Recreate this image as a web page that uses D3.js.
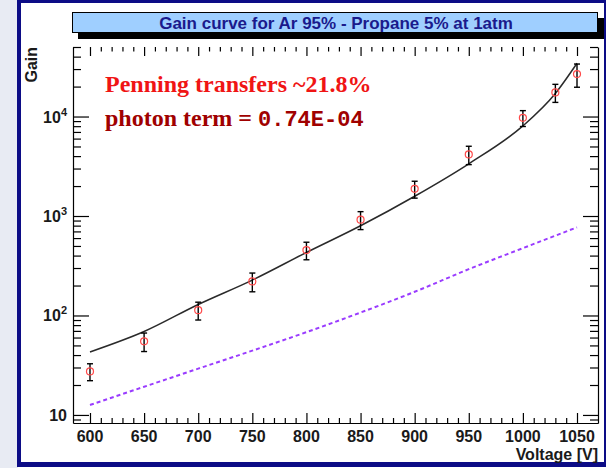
<!DOCTYPE html>
<html>
<head>
<meta charset="utf-8">
<script src="https://cdn.jsdelivr.net/npm/d3@7"></script>
<style>
  body { margin: 0; background: #fff; }
  svg { display: block; }
</style>
</head>
<body>
<svg width="606" height="468"></svg>
<script>
// measured points
const voltage = [600, 650, 700, 750, 800, 850, 900, 950, 1000, 1030, 1050];
const gain    = [27.4, 55, 113, 220, 454, 918, 1874, 4155, 9700, 17470, 26700];
const gainErr = [5.3, 11.6, 23, 47, 91, 188, 362, 870, 1760, 3600, 7000];

// fit curve (black) and photon term (purple dashed)
const fitVoltage = [600, 650, 700, 750, 800, 850, 900, 950, 1000, 1030, 1050];
const fitGain    = [43, 69, 129, 227, 430, 798, 1580, 3350, 8050, 17060, 34300];
const photonVoltage = [600, 650, 700, 750, 800, 850, 900, 950, 1000, 1050];
const photonGain    = [12.6, 19.2, 29.2, 44.3, 68, 107, 173, 292, 475, 769];

const xTicks = [600, 650, 700, 750, 800, 850, 900, 950, 1000, 1050];
const yTicks = [10, 100, 1000, 10000];
const yTickExp = ["", "2", "3", "4"];

const svg = d3.select("svg");

// slide background + navy frame
svg.append("rect").attr("x", 0).attr("y", 0).attr("width", 18).attr("height", 468).attr("fill", "#e8ebf3");
svg.append("rect").attr("x", 17).attr("y", 0).attr("width", 589).attr("height", 3).attr("fill", "#0c0c86");
svg.append("rect").attr("x", 17).attr("y", 0).attr("width", 4).attr("height", 466).attr("fill", "#0c0c86");
svg.append("rect").attr("x", 17).attr("y", 462).attr("width", 589).attr("height", 5).attr("fill", "#0c0c86");
svg.append("rect").attr("x", 604).attr("y", 0).attr("width", 2).attr("height", 466).attr("fill", "#0c0c86");

const pLeft = 73, pRight = 598, pTop = 47, pBottom = 423;
const x = d3.scaleLinear().domain([584.3, 1069.4]).range([pLeft, pRight]);
const y = d3.scaleLog().domain([8.3, 50000]).range([pBottom, pTop]);

// title box
svg.append("rect").attr("x", 78).attr("y", 18).attr("width", 526).attr("height", 21).attr("fill", "#000");
svg.append("rect").attr("x", 72.5).attr("y", 12.5).attr("width", 525).attr("height", 20)
  .attr("fill", "#9fcfff").attr("stroke", "#000").attr("stroke-width", 1);
svg.append("text").attr("x", 336).attr("y", 29).attr("text-anchor", "middle")
  .attr("font-family", "Liberation Sans, Arial, sans-serif").attr("font-weight", "bold")
  .attr("font-size", 17).attr("fill", "#1a1a8c")
  .text("Gain curve for Ar 95% - Propane 5% at 1atm");

// minor tick values
const xMinor = d3.range(600, 1051, 10).filter(v => v % 50 !== 0);
const yMinor = [];
[1, 10, 100, 1000, 10000].forEach(d => {
  for (let k = 2; k <= 9; k++) {
    const v = k * d;
    if (v >= 8.3 && v <= 50000) yMinor.push(v);
  }
});

const axisStyle = g => {
  g.selectAll("line").attr("stroke", "#000").attr("stroke-width", 1.2);
  g.selectAll("path").attr("stroke", "#000").attr("stroke-width", 1.2);
};

// bottom axis (ticks inward)
svg.append("g").attr("transform", `translate(0,${pBottom})`)
  .call(d3.axisBottom(x).tickValues(xTicks).tickSizeInner(-10).tickSizeOuter(0).tickFormat(""))
  .call(axisStyle);
svg.append("g").attr("transform", `translate(0,${pBottom})`)
  .call(d3.axisBottom(x).tickValues(xMinor).tickSize(-5).tickFormat(""))
  .call(g => g.select(".domain").remove())
  .call(axisStyle);
// top axis ticks only
svg.append("g").attr("transform", `translate(0,${pTop})`)
  .call(d3.axisTop(x).tickValues(xTicks).tickSize(-9).tickFormat(""))
  .call(g => g.select(".domain").remove())
  .call(axisStyle);
svg.append("g").attr("transform", `translate(0,${pTop})`)
  .call(d3.axisTop(x).tickValues(xMinor).tickSize(-4.5).tickFormat(""))
  .call(g => g.select(".domain").remove())
  .call(axisStyle);

// left axis
svg.append("g").attr("transform", `translate(${pLeft},0)`)
  .call(d3.axisLeft(y).tickValues(yTicks).tickSizeInner(-16).tickSizeOuter(0).tickFormat(""))
  .call(axisStyle);
svg.append("g").attr("transform", `translate(${pLeft},0)`)
  .call(d3.axisLeft(y).tickValues(yMinor).tickSize(-8).tickFormat(""))
  .call(g => g.select(".domain").remove())
  .call(axisStyle);
// right axis
svg.append("g").attr("transform", `translate(${pRight},0)`)
  .call(d3.axisRight(y).tickValues(yTicks).tickSizeInner(-15).tickSizeOuter(0).tickFormat(""))
  .call(axisStyle);
svg.append("g").attr("transform", `translate(${pRight},0)`)
  .call(d3.axisRight(y).tickValues(yMinor).tickSize(-8).tickFormat(""))
  .call(g => g.select(".domain").remove())
  .call(axisStyle);

const labelFont = "Liberation Sans, Arial, sans-serif";

// x tick labels
svg.append("g").selectAll("text").data(xTicks).join("text")
  .attr("x", d => x(d)).attr("y", 442).attr("text-anchor", "middle")
  .attr("font-family", labelFont).attr("font-weight", "bold").attr("font-size", 16).attr("fill", "#1a1a1a")
  .text(d => d);

// y tick labels
const yl = svg.append("g").selectAll("text").data(yTicks).join("text")
  .attr("x", 67).attr("y", d => y(d) + 6).attr("text-anchor", "end")
  .attr("font-family", labelFont).attr("font-weight", "bold").attr("font-size", 16).attr("fill", "#1a1a1a");
yl.append("tspan").text("10");
yl.append("tspan").attr("dy", -7).attr("font-size", 11).text((d, i) => yTickExp[i]);

// axis titles
svg.append("text").attr("x", 598).attr("y", 460).attr("text-anchor", "end")
  .attr("font-family", labelFont).attr("font-weight", "bold").attr("font-size", 16).attr("fill", "#1a1a1a").text("Voltage [V]");
svg.append("text").attr("transform", "translate(37,47) rotate(-90)").attr("text-anchor", "end")
  .attr("font-family", labelFont).attr("font-weight", "bold").attr("font-size", 16).attr("fill", "#1a1a1a").text("Gain");

// photon term
svg.append("path").datum(photonVoltage.map((v, i) => [v, photonGain[i]]))
  .attr("fill", "none").attr("stroke", "#9a3cff").attr("stroke-width", 2)
  .attr("stroke-dasharray", "4,3")
  .attr("d", d3.line().x(d => x(d[0])).y(d => y(d[1])).curve(d3.curveMonotoneX));

// fit curve
svg.append("path").datum(fitVoltage.map((v, i) => [v, fitGain[i]]))
  .attr("fill", "none").attr("stroke", "#2a2a2a").attr("stroke-width", 1.5)
  .attr("d", d3.line().x(d => x(d[0])).y(d => y(d[1])).curve(d3.curveMonotoneX));

// error bars
const pts = voltage.map((v, i) => ({ v, g: gain[i], e: gainErr[i] }));
const eb = svg.append("g").attr("stroke", "#000").attr("stroke-width", 1.4);
eb.selectAll(".bar").data(pts).join("line").attr("class", "bar")
  .attr("x1", d => x(d.v)).attr("x2", d => x(d.v))
  .attr("y1", d => y(d.g + d.e)).attr("y2", d => y(d.g - d.e));
eb.selectAll(".capT").data(pts).join("line").attr("class", "capT")
  .attr("x1", d => x(d.v) - 3).attr("x2", d => x(d.v) + 3)
  .attr("y1", d => y(d.g + d.e)).attr("y2", d => y(d.g + d.e));
eb.selectAll(".capB").data(pts).join("line").attr("class", "capB")
  .attr("x1", d => x(d.v) - 3).attr("x2", d => x(d.v) + 3)
  .attr("y1", d => y(d.g - d.e)).attr("y2", d => y(d.g - d.e));

// markers
svg.append("g").selectAll("circle").data(pts).join("circle")
  .attr("cx", d => x(d.v)).attr("cy", d => y(d.g)).attr("r", 3.5)
  .attr("fill", "none").attr("stroke", "#ff4a4a").attr("stroke-width", 1.2);

// annotation text
svg.append("text").attr("x", 105).attr("y", 92)
  .attr("font-family", "Liberation Serif, Times New Roman, serif").attr("font-weight", "bold")
  .attr("font-size", 24).attr("fill", "#f01414")
  .text("Penning transfers ~21.8%");
const t2 = svg.append("text").attr("x", 105).attr("y", 126)
  .attr("font-family", "Liberation Serif, Times New Roman, serif").attr("font-weight", "bold")
  .attr("font-size", 24).attr("fill", "#a00000");
t2.append("tspan").text("photon term = ");
t2.append("tspan").attr("font-family", "Liberation Mono, Courier New, monospace").attr("font-size", 22).text("0.74E-04");
</script>
</body>
</html>
